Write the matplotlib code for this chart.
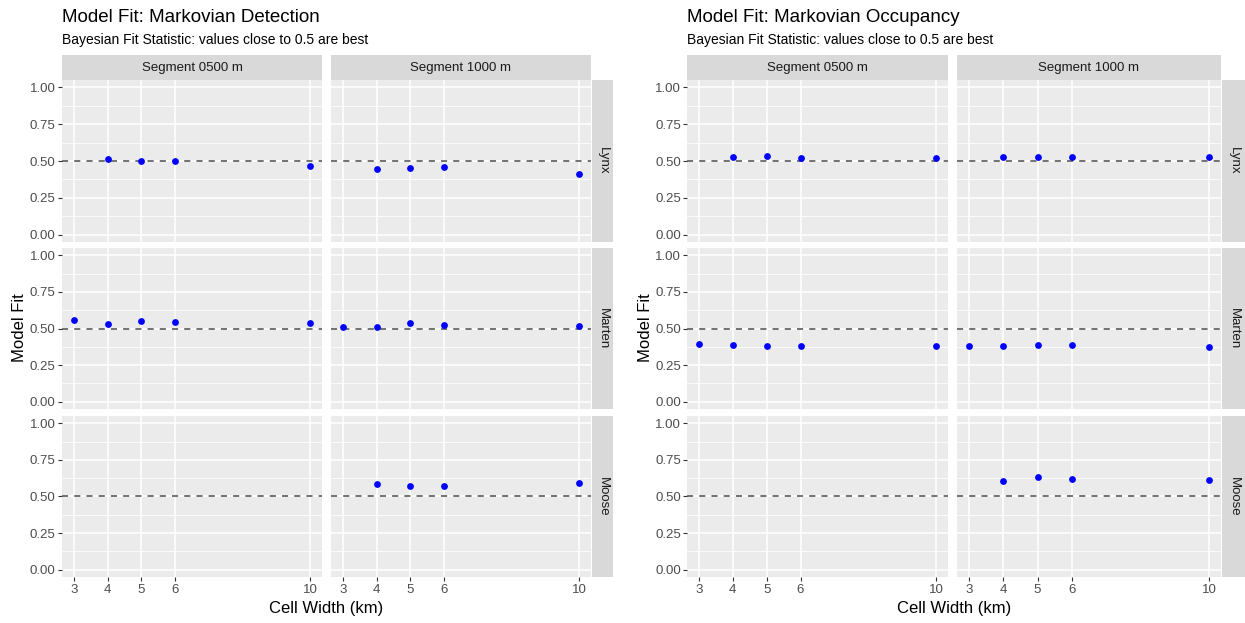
import matplotlib.pyplot as plt
import numpy as np

plt.rcParams['font.family'] = ['Liberation Sans', 'DejaVu Sans']

# cell widths on the x axis
cell_width = [3, 4, 5, 6, 10]
species = ["Lynx", "Marten", "Moose"]
segments = ["Segment 0500 m", "Segment 1000 m"]
nan = np.nan

# Markovian detection model fit (one value per cell width, nan = no model)
det_lynx_0500 = [nan, 0.515, 0.500, 0.497, 0.465]
det_lynx_1000 = [nan, 0.445, 0.455, 0.462, 0.410]
det_marten_0500 = [0.558, 0.530, 0.553, 0.543, 0.540]
det_marten_1000 = [0.510, 0.508, 0.535, 0.523, 0.518]
det_moose_0500 = [nan, nan, nan, nan, nan]
det_moose_1000 = [nan, 0.583, 0.570, 0.575, 0.592]

# Markovian occupancy model fit
occ_lynx_0500 = [nan, 0.525, 0.535, 0.518, 0.520]
occ_lynx_1000 = [nan, 0.528, 0.525, 0.530, 0.530]
occ_marten_0500 = [0.395, 0.385, 0.380, 0.378, 0.383]
occ_marten_1000 = [0.380, 0.378, 0.385, 0.385, 0.375]
occ_moose_0500 = [nan, nan, nan, nan, nan]
occ_moose_1000 = [nan, 0.608, 0.630, 0.618, 0.615]

detection = [[det_lynx_0500, det_lynx_1000],
             [det_marten_0500, det_marten_1000],
             [det_moose_0500, det_moose_1000]]
occupancy = [[occ_lynx_0500, occ_lynx_1000],
             [occ_marten_0500, occ_marten_1000],
             [occ_moose_0500, occ_moose_1000]]

W, H = 1245, 623
fig = plt.figure(figsize=(W / 100, H / 100), dpi=100)


def rect(x0, y0, x1, y1):
    # pixel box (top-left origin) -> figure fraction
    return [x0 / W, 1 - y1 / H, (x1 - x0) / W, (y1 - y0) / H]


rows_px = [(80, 242), (248, 409), (416, 577)]
strip_top = (55, 80)


def facet_block(values, title, cols_px, strip_x):
    left = cols_px[0][0]
    for r, (y0, y1) in enumerate(rows_px):
        for c, (x0, x1) in enumerate(cols_px):
            ax = fig.add_axes(rect(x0, y0, x1, y1))
            ax.set_facecolor("#EBEBEB")
            ax.set_xlim(2.65, 10.35)
            ax.set_ylim(-0.05, 1.05)
            ax.set_yticks([0, 0.25, 0.5, 0.75, 1.0])
            ax.set_yticks([0.125, 0.375, 0.625, 0.875], minor=True)
            ax.set_xticks(cell_width)
            ax.grid(which="major", color="white", lw=1.1)
            ax.grid(which="minor", axis="y", color="white", lw=0.55)
            ax.set_axisbelow(True)
            for s in ax.spines.values():
                s.set_visible(False)
            ax.tick_params(which="both", length=0)
            ax.tick_params(which="major", colors="#333333", labelcolor="#4D4D4D",
                           labelsize=9.5, width=0.8)
            if c == 0:
                ax.tick_params(axis="y", length=3, pad=1.5)
                ax.set_yticklabels(["0.00", "0.25", "0.50", "0.75", "1.00"])
            else:
                ax.set_yticklabels([])
            if r == 2:
                ax.tick_params(axis="x", length=3, pad=2)
                ax.set_xticklabels([str(v) for v in cell_width])
            else:
                ax.set_xticklabels([])
            ax.axhline(0.5, color="#4D4D4D", lw=1.1, ls=(0, (4, 4)), zorder=2)
            ax.scatter(cell_width, values[r][c], s=24, color="blue",
                       linewidths=0, zorder=3)
            # top strips
            if r == 0:
                sa = fig.add_axes(rect(x0, strip_top[0], x1, strip_top[1]))
                sa.set_facecolor("#D9D9D9")
                sa.set_xticks([]); sa.set_yticks([])
                for s in sa.spines.values():
                    s.set_visible(False)
                sa.text(0.5, 0.5, segments[c], ha="center", va="center",
                        fontsize=9.5, color="#1A1A1A", transform=sa.transAxes)
        # right strip
        sa = fig.add_axes(rect(strip_x[0], y0, strip_x[1], y1))
        sa.set_facecolor("#D9D9D9")
        sa.set_xticks([]); sa.set_yticks([])
        for s in sa.spines.values():
            s.set_visible(False)
        sa.text(0.5, 0.5, species[r], ha="center", va="center", rotation=-90,
                fontsize=9.5, color="#1A1A1A", transform=sa.transAxes)

    fig.text(left / W, 1 - 18 / H, title, fontsize=13.5, va="center", ha="left")
    fig.text(left / W, 1 - 40 / H, "Bayesian Fit Statistic: values close to 0.5 are best",
             fontsize=10, va="center", ha="left")
    xc = (cols_px[0][0] + cols_px[1][1]) / 2
    fig.text(xc / W, 1 - 609 / H, "Cell Width (km)", fontsize=12, ha="center", va="center")
    fig.text((left - 42) / W, 1 - 328 / H, "Model Fit", fontsize=12, rotation=90,
             ha="center", va="center")


facet_block(detection, "Model Fit: Markovian Detection",
            [(62, 322), (331, 591)], (592, 613))
facet_block(occupancy, "Model Fit: Markovian Occupancy",
            [(687, 948), (957, 1221)], (1222, 1245))

fig.savefig("out.png", dpi=100)
